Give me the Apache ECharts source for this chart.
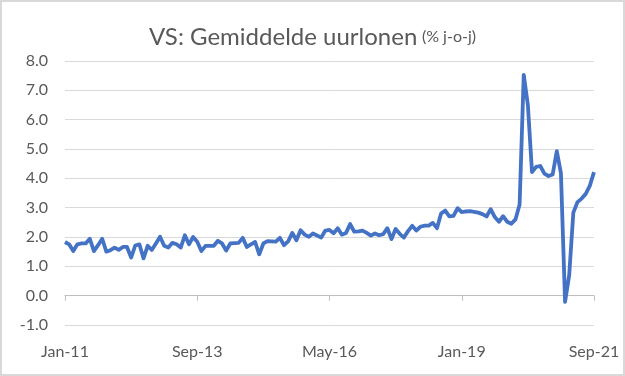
<!DOCTYPE html>
<html>
<head>
<meta charset="utf-8">
<script src="https://cdn.jsdelivr.net/npm/echarts@6/dist/echarts.min.js"></script>
<style>
  html, body { margin: 0; padding: 0; background: #fff; }
  #chart { width: 625px; height: 376px; box-sizing: border-box; border: 2px solid #d9d9d9; }
</style>
</head>
<body>
<div id="chart"></div>
<script>
var monthNames = ['Jan','Feb','Mar','Apr','May','Jun','Jul','Aug','Sep','Oct','Nov','Dec'];
var startYear = 2011;
var monthCount = 129;
var categories = [];
for (var i = 0; i < monthCount; i++) {
  var y = startYear + Math.floor(i / 12);
  categories.push(monthNames[i % 12] + '-' + String(y).slice(2));
}

var wageGrowth = [
  1.83, 1.75, 1.52, 1.75, 1.78, 1.78, 1.94, 1.52, 1.72, 1.94,
  1.50, 1.55, 1.64, 1.56, 1.66, 1.66, 1.30, 1.71, 1.75, 1.27,
  1.70, 1.56, 1.78, 2.01, 1.70, 1.64, 1.80, 1.75, 1.64, 2.06,
  1.75, 2.00, 1.84, 1.52, 1.70, 1.70, 1.70, 1.87, 1.78, 1.54,
  1.78, 1.79, 1.80, 1.97, 1.66, 1.75, 1.83, 1.41, 1.78, 1.86,
  1.85, 1.84, 1.97, 1.72, 1.85, 2.14, 1.89, 2.23, 2.08, 2.01,
  2.12, 2.05, 1.98, 2.22, 2.24, 2.13, 2.30, 2.08, 2.14, 2.44,
  2.18, 2.19, 2.22, 2.14, 2.05, 2.12, 2.06, 2.10, 2.30, 1.93,
  2.27, 2.11, 1.98, 2.20, 2.38, 2.22, 2.35, 2.39, 2.39, 2.48,
  2.30, 2.80, 2.90, 2.70, 2.72, 2.98, 2.85, 2.87, 2.88, 2.86,
  2.83, 2.78, 2.70, 2.95, 2.68, 2.52, 2.71, 2.52, 2.45, 2.60,
  3.11, 7.53, 6.50, 4.21, 4.39, 4.42, 4.16, 4.08, 4.13, 4.93,
  4.17, -0.21, 0.70, 2.83, 3.19, 3.31, 3.47, 3.75, 4.21
];

var yMin = -1, yMax = 8, yStep = 1;
var titleMain = 'VS: Gemiddelde uurlonen';
var titleUnit = '(% j-o-j)';

var chart = echarts.init(document.getElementById('chart'));
chart.setOption({
  animation: false,
  textStyle: { fontFamily: 'Lato' },
  title: {
    text: '{a|' + titleMain + '} {b|' + titleUnit + '}',
    left: 'center',
    top: 18,
    textStyle: {
      fontWeight: 'normal',
      rich: {
        a: { fontFamily: 'Lato', fontSize: 24, fontWeight: 'normal', color: '#595959' },
        b: { fontFamily: 'Lato', fontSize: 16, fontWeight: 'normal', color: '#595959' }
      }
    }
  },
  grid: { left: 63, right: 29, top: 59, bottom: 49 },
  xAxis: {
    type: 'category',
    data: categories,
    boundaryGap: false,
    axisLine: { onZero: true, lineStyle: { color: '#bfbfbf', width: 1 } },
    axisTick: { show: true, interval: 31, length: 5, lineStyle: { color: '#bfbfbf' } },
    axisLabel: { interval: 31, margin: 19, color: '#595959', fontSize: 16, fontFamily: 'Lato' },
    splitLine: { show: false }
  },
  yAxis: {
    type: 'value',
    min: yMin, max: yMax, interval: yStep,
    axisLine: { show: false },
    axisTick: { show: false },
    axisLabel: {
      margin: 17, color: '#595959', fontSize: 16, fontFamily: 'Lato',
      formatter: function (v) { return v.toFixed(1); }
    },
    splitLine: { lineStyle: { color: '#d9d9d9', width: 1 } }
  },
  series: [{
    type: 'line',
    data: wageGrowth,
    showSymbol: false,
    lineStyle: { color: '#4472C4', width: 3.8, join: 'round' },
    itemStyle: { color: '#4472C4' }
  }]
});
</script>
</body>
</html>
